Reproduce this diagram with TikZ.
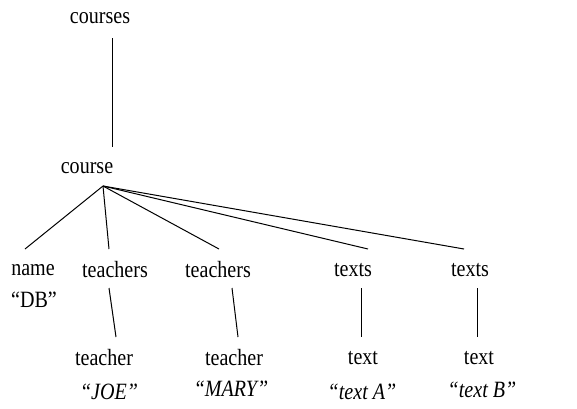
\documentclass[tikz,border=0pt]{standalone}
\usepackage{fontspec}
\setmainfont{Liberation Serif}[FakeStretch=0.86]
\begin{document}
\begin{tikzpicture}[x=0.75pt,y=-0.75pt,
  lbl/.style={inner sep=0pt,font=\fontsize{17.5}{20}\selectfont},
  val/.style={lbl,font=\fontsize{17.5}{20}\selectfont\itshape},
  edge/.style={line width=0.75pt}]
\useasboundingbox (0,0) rectangle (577,408);
% element and value labels
\node[lbl] (courses) at (100,18) {courses};
\node[lbl] (course) at (87,168) {course};
\node[lbl] (name) at (33,270) {name};
\node[lbl] (teachersA) at (115,270) {teachers};
\node[lbl] (teachersB) at (218,270) {teachers};
\node[lbl] (textsA) at (353,270) {texts};
\node[lbl] (textsB) at (470,270) {texts};
\node[lbl] (db) at (34,300) {“DB”};
\node[lbl] (teacherA) at (104,358) {teacher};
\node[lbl] (teacherB) at (234,358) {teacher};
\node[lbl] (textA) at (363,358) {text};
\node[lbl] (textB) at (479,358) {text};
\node[val] (joe) at (109,392) {“JOE”};
\node[val] (mary) at (231,389) {“MARY”};
\node[val] (vtextA) at (362,392) {“text A”};
\node[val] (vtextB) at (482,390) {“text B”};
% attachment points of the tree edges
\coordinate (coursesFoot) at (112,38);
\coordinate (courseHead) at (112,147);
\coordinate (courseFoot) at (103,186);
\coordinate (nameHead) at (25,249);
\coordinate (teachersAHead) at (109,249);
\coordinate (teachersBHead) at (219,249);
\coordinate (textsAHead) at (368,249);
\coordinate (textsBHead) at (464,249);
\coordinate (teachersAFoot) at (109,288);
\coordinate (teacherAHead) at (116,337);
\coordinate (teachersBFoot) at (232,288);
\coordinate (teacherBHead) at (238,337);
\coordinate (textsAFoot) at (361,288);
\coordinate (textAHead) at (361,337);
\coordinate (textsBFoot) at (477,288);
\coordinate (textBHead) at (477,337);
% edges
\draw[edge] (coursesFoot) -- (courseHead);
\foreach \c in {nameHead,teachersAHead,teachersBHead,textsAHead,textsBHead}
  \draw[edge] (courseFoot) -- (\c);
\draw[edge] (teachersAFoot) -- (teacherAHead);
\draw[edge] (teachersBFoot) -- (teacherBHead);
\draw[edge] (textsAFoot) -- (textAHead);
\draw[edge] (textsBFoot) -- (textBHead);
\end{tikzpicture}
\end{document}
